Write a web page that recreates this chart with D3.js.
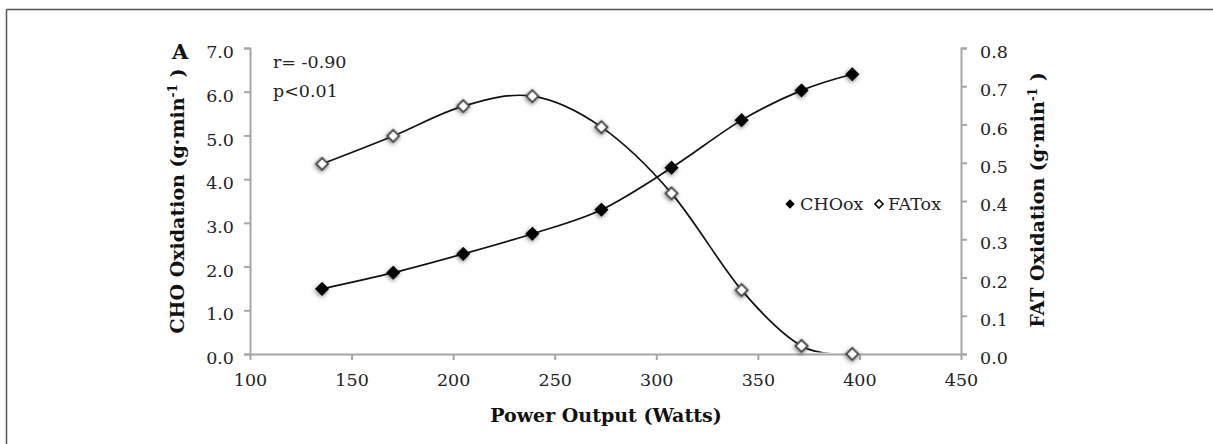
<!DOCTYPE html>
<html>
<head>
<meta charset="utf-8">
<script src="https://cdn.jsdelivr.net/npm/d3@7"></script>
<style>
  body { margin: 0; background: #fff; }
  svg { display: block; }
  .tick text { font-family: "DejaVu Serif", serif; font-size: 17.5px; fill: #222; }
  .title { font-family: "DejaVu Serif", serif; font-weight: bold; font-size: 19px; fill: #111; }
  .note { font-family: "DejaVu Serif", serif; font-size: 17.5px; fill: #222; }
</style>
</head>
<body>
<svg id="chart"></svg>
<script>
// power output (W) at each stage
const watts = [135.5, 170.5, 205, 239, 273, 307.5, 342, 371.5, 396.5];
// carbohydrate and fat oxidation (g·min-1)
const choOx = [1.49, 1.86, 2.29, 2.75, 3.30, 4.26, 5.35, 6.03, 6.40];
const fatOx = [0.497, 0.570, 0.648, 0.674, 0.593, 0.420, 0.167, 0.021, 0.0];
const xTicks = [100, 150, 200, 250, 300, 350, 400, 450];
const yLeftTicks = [0, 1, 2, 3, 4, 5, 6, 7];
const yRightTicks = [0, 0.1, 0.2, 0.3, 0.4, 0.5, 0.6, 0.7, 0.8];

const width = 1213, height = 444;
const margin = { top: 48, right: 252, bottom: 90, left: 250 };
const plotW = width - margin.left - margin.right;
const plotH = height - margin.top - margin.bottom;

const svg = d3.select("#chart").attr("width", width).attr("height", height);

// frame lines of the figure panel
svg.append("line").attr("x1", 6.5).attr("x2", 6.5).attr("y1", 9.5).attr("y2", height)
    .attr("stroke", "#555").attr("stroke-width", 1.5);
svg.append("line").attr("x1", 6.5).attr("x2", width).attr("y1", 9.5).attr("y2", 9.5)
    .attr("stroke", "#555").attr("stroke-width", 1.5);

const defs = svg.append("defs");
const shadow = defs.append("filter").attr("id", "shadow")
    .attr("x", "-80%").attr("y", "-80%").attr("width", "260%").attr("height", "260%");
shadow.append("feDropShadow").attr("dx", 0.5).attr("dy", 1.5).attr("stdDeviation", 2)
    .attr("flood-color", "#000").attr("flood-opacity", 0.5);
// lines are cut just above the x axis, as in the original
defs.append("clipPath").attr("id", "plotclip").append("rect")
    .attr("x", 0).attr("y", -20).attr("width", plotW).attr("height", plotH + 18.5);

const x = d3.scaleLinear().domain([100, 450]).range([0, plotW]);
const yL = d3.scaleLinear().domain([0, 7]).range([plotH, 0]);
const yR = d3.scaleLinear().domain([0, 0.8]).range([plotH, 0]);

const g = svg.append("g").attr("transform", `translate(${margin.left},${margin.top})`);

const choData = watts.map((w, i) => ({ w, v: choOx[i] }));
const fatData = watts.map((w, i) => ({ w, v: fatOx[i] }));

const lineL = d3.line().x(d => x(d.w)).y(d => yL(d.v)).curve(d3.curveCatmullRom.alpha(0));
const lineR = d3.line().x(d => x(d.w)).y(d => yR(d.v)).curve(d3.curveCatmullRom.alpha(0));

const lines = g.append("g").attr("clip-path", "url(#plotclip)");
lines.append("path").datum(fatData).attr("d", lineR)
    .attr("fill", "none").attr("stroke", "#111").attr("stroke-width", 1.7);
lines.append("path").datum(choData).attr("d", lineL)
    .attr("fill", "none").attr("stroke", "#111").attr("stroke-width", 1.7);

function styleAxis(sel) {
    sel.select(".domain").attr("stroke", "#a6a6a6").attr("stroke-width", 2);
    sel.selectAll(".tick line").attr("stroke", "#a6a6a6").attr("stroke-width", 2);
}

g.append("g").attr("transform", `translate(0,${plotH})`)
    .call(d3.axisBottom(x).tickValues(xTicks).tickSize(6).tickSizeOuter(0).tickPadding(14).tickFormat(d3.format("d")))
    .call(styleAxis);

g.append("g")
    .call(d3.axisLeft(yL).tickValues(yLeftTicks).tickSize(6).tickSizeOuter(6).tickPadding(10).tickFormat(d3.format(".1f")))
    .call(styleAxis)
    .selectAll(".tick text").attr("dy", "0.55em");

g.append("g").attr("transform", `translate(${plotW},0)`)
    .call(d3.axisRight(yR).tickValues(yRightTicks).tickSize(6).tickSizeOuter(6).tickPadding(13).tickFormat(d3.format(".1f")))
    .call(styleAxis)
    .selectAll(".tick text").attr("dy", "0.55em");

g.selectAll(".fat").data(fatData).join("path")
    .attr("class", "fat")
    .attr("d", d3.symbol().type(d3.symbolSquare).size(72))
    .attr("transform", d => `translate(${x(d.w)},${yR(d.v)}) rotate(45)`)
    .attr("fill", "#fff").attr("stroke", "#4a4a4a").attr("stroke-width", 2)
    .attr("filter", "url(#shadow)");

g.selectAll(".cho").data(choData).join("path")
    .attr("class", "cho")
    .attr("d", d3.symbol().type(d3.symbolSquare).size(100))
    .attr("transform", d => `translate(${x(d.w)},${yL(d.v)}) rotate(45)`)
    .attr("fill", "#000")
    .attr("filter", "url(#shadow)");

// axis titles
svg.append("text").attr("class", "title")
    .attr("x", 606).attr("y", 422).attr("text-anchor", "middle")
    .text("Power Output (Watts)");

function unitTitle(label, cx, cy) {
    const t = svg.append("text").attr("class", "title")
        .attr("transform", `translate(${cx},${cy}) rotate(-90)`)
        .attr("text-anchor", "middle");
    t.append("tspan").text(label + " (g·min");
    t.append("tspan").attr("font-size", "12px").attr("dy", "-0.6em").text("-1");
    t.append("tspan").attr("dy", "0.38em").text(" )");
}
unitTitle("CHO Oxidation", 184, 201);
unitTitle("FAT Oxidation", 1044, 200);

svg.append("text").attr("class", "title").style("font-size", "21px")
    .attr("x", 172).attr("y", 59).text("A");

svg.append("text").attr("class", "note").attr("x", 273).attr("y", 68).text("r= -0.90");
svg.append("text").attr("class", "note").attr("x", 273).attr("y", 97).text("p<0.01");

// legend
const legend = svg.append("g").attr("transform", "translate(790,204)");
legend.append("path").attr("d", d3.symbol().type(d3.symbolSquare).size(44))
    .attr("transform", "rotate(45)").attr("fill", "#000");
legend.append("text").attr("class", "note").attr("x", 10).attr("y", 6).text("CHOox");
legend.append("path").attr("d", d3.symbol().type(d3.symbolSquare).size(34))
    .attr("transform", "translate(89,0) rotate(45)").attr("fill", "#fff")
    .attr("stroke", "#111").attr("stroke-width", 1.6);
legend.append("text").attr("class", "note").attr("x", 98).attr("y", 6).text("FATox");
</script>
</body>
</html>
